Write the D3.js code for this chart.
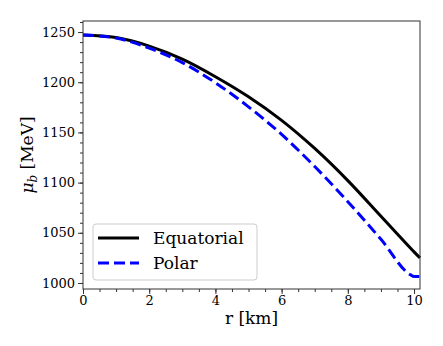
<!DOCTYPE html>
<html>
<head>
<meta charset="utf-8">
<script src="https://cdn.jsdelivr.net/npm/d3@7"></script>
<style>
  body { margin: 0; background: #fff; }
  svg text { font-family: "DejaVu Serif", "Liberation Serif", serif; }
</style>
</head>
<body>
<div id="chart"></div>
<script>
// radius in km
const rEq = [0, 1, 2, 3, 4, 5, 6, 7, 8, 9, 10, 10.18];
const muEq = [1247, 1244.5, 1236, 1223, 1205.5, 1185.5, 1162, 1134, 1102, 1066.5, 1031, 1025];
const rPol = [0, 1, 2, 3, 4, 5, 6, 7, 8, 9, 9.9, 10, 10.18];
const muPol = [1247, 1244, 1234, 1219.5, 1199.5, 1175.5, 1148, 1116, 1081, 1043.5, 1008, 1006.5, 1006.5];
const xTicks = [0, 2, 4, 6, 8, 10];
const yTicks = [1000, 1050, 1100, 1150, 1200, 1250];
const seriesNames = ["Equatorial", "Polar"];

const W = 443, H = 346;
const margin = { top: 21, right: 23, bottom: 57, left: 83 },
    width = W - margin.left - margin.right,
    height = H - margin.top - margin.bottom;

const svg = d3.select("#chart")
    .append("svg")
    .attr("width", W)
    .attr("height", H)
    .append("g")
    .attr("transform", "translate(" + margin.left + "," + margin.top + ")");

const x = d3.scaleLinear().domain([0, 10.18]).range([0, width]);
const y = d3.scaleLinear().domain([994, 1261]).range([height, 0]);

// minor ticks
svg.append("g")
    .attr("transform", "translate(0," + height + ")")
    .call(d3.axisBottom(x).tickValues(d3.range(0, 10.01, 0.5)).tickSize(3).tickFormat(""))
    .call(g => g.select(".domain").remove());
svg.append("g")
    .call(d3.axisLeft(y).tickValues(d3.range(1000, 1261, 10)).tickSize(3).tickFormat(""))
    .call(g => g.select(".domain").remove());

// major ticks
svg.append("g")
    .attr("transform", "translate(0," + height + ")")
    .call(d3.axisBottom(x).tickValues(xTicks).tickFormat(d3.format("d")).tickSize(5).tickPadding(2));
svg.append("g")
    .call(d3.axisLeft(y).tickValues(yTicks).tickFormat(d3.format("d")).tickSize(5).tickPadding(3));

svg.selectAll("g").attr("font-family", null);
svg.selectAll(".tick text").attr("font-size", 13).attr("fill", "#000");
svg.selectAll(".tick line").attr("stroke", "#333");
svg.selectAll(".domain").remove();

const lineEq = d3.line()
    .curve(d3.curveCatmullRom)
    .x(d => x(d[0]))
    .y(d => y(d[1]));
const linePol = d3.line()
    .curve(d3.curveMonotoneX)
    .x(d => x(d[0]))
    .y(d => y(d[1]));

svg.append("path")
    .datum(rEq.map((r, i) => [r, muEq[i]]))
    .attr("d", lineEq)
    .attr("fill", "none")
    .attr("stroke", "#000")
    .attr("stroke-width", 3);

svg.append("path")
    .datum(rPol.map((r, i) => [r, muPol[i]]))
    .attr("d", linePol)
    .attr("fill", "none")
    .attr("stroke", "#0000ff")
    .attr("stroke-width", 3)
    .attr("stroke-dasharray", "11,5");

// frame
svg.append("rect")
    .attr("width", width)
    .attr("height", height)
    .attr("fill", "none")
    .attr("stroke", "#333")
    .attr("stroke-width", 1);

// legend
const legend = svg.append("g").attr("transform", "translate(10,203)");
legend.append("rect")
    .attr("width", 164)
    .attr("height", 56)
    .attr("rx", 3)
    .attr("fill", "#fff")
    .attr("fill-opacity", 0.8)
    .attr("stroke", "#ccc");
seriesNames.forEach((name, i) => {
    const ly = 14 + i * 25;
    legend.append("line")
        .attr("x1", 5).attr("x2", 46)
        .attr("y1", ly).attr("y2", ly)
        .attr("stroke", i === 0 ? "#000" : "#0000ff")
        .attr("stroke-width", 3)
        .attr("stroke-dasharray", i === 0 ? null : "11,5");
    legend.append("text")
        .attr("x", 60)
        .attr("y", ly)
        .attr("dy", "0.35em")
        .attr("font-size", 17)
        .text(name);
});

// axis labels
svg.append("text")
    .attr("x", width / 2)
    .attr("y", height + 35)
    .attr("text-anchor", "middle")
    .attr("font-size", 17)
    .text("r [km]");

const yl = svg.append("text")
    .attr("transform", "translate(-50," + (height / 2) + ") rotate(-90)")
    .attr("text-anchor", "middle")
    .attr("font-size", 17);
yl.append("tspan").attr("font-style", "italic").text("μ");
yl.append("tspan").attr("font-style", "italic").attr("font-size", 12).attr("dy", 4).text("b");
yl.append("tspan").attr("dy", -4).text(" [MeV]");
</script>
</body>
</html>
